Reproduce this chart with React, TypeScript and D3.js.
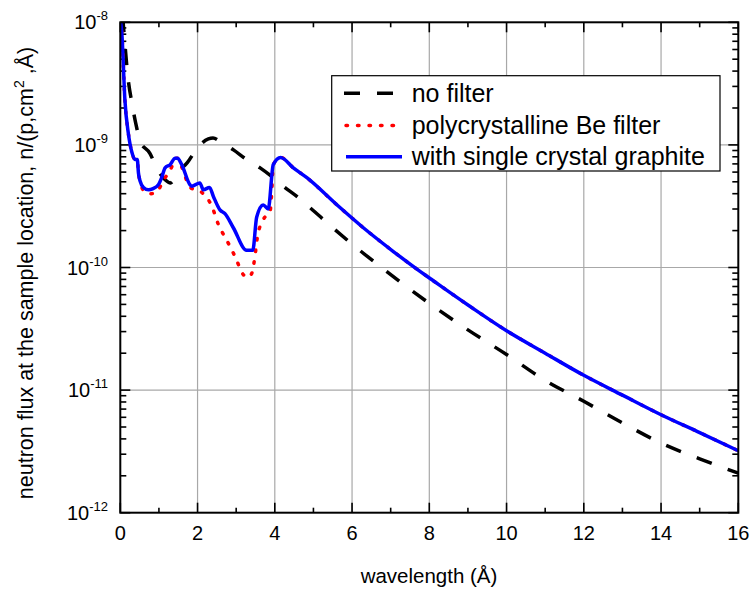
import React from "react";
import * as d3 from "d3";

const noFilterX = [0.06, 0.1, 0.2, 0.3, 0.42, 0.51, 0.77, 0.94, 1.16, 1.3, 1.5, 1.74, 1.98, 2.28, 2.4, 2.58, 2.93, 3.27, 3.62, 3.96, 4.22, 4.57, 4.87, 5.48, 6.08, 6.73, 8, 9, 10, 11, 12, 13, 14, 15, 16];
const noFilterY = [1.12e-8, 7.9e-9, 3.5e-9, 2.2e-9, 1.4e-9, 1.07e-9, 8.5e-10, 6.5e-10, 5.2e-10, 4.9e-10, 6.0e-10, 7.2e-10, 9.3e-10, 1.12e-9, 1.14e-9, 1.07e-9, 9.1e-10, 7.6e-10, 6.5e-10, 5.4e-10, 4.6e-10, 3.8e-10, 3.16e-10, 2.14e-10, 1.48e-10, 1.02e-10, 5.1e-11, 3.1e-11, 1.95e-11, 1.2e-11, 8.1e-12, 5.4e-12, 3.7e-12, 2.75e-12, 2.1e-12];

const graphiteX = [0, 0.04, 0.12, 0.21, 0.3, 0.38, 0.44, 0.47, 0.51, 0.6, 0.73, 0.85, 0.98, 1.07, 1.16, 1.29, 1.42, 1.48, 1.59, 1.81, 1.85, 2.06, 2.15, 2.31, 2.41, 2.58, 2.71, 2.93, 3.27, 3.43, 3.53, 3.7, 3.83, 3.96, 4.15, 4.48, 4.83, 5.61, 6.3, 7.07, 7.76, 8.03, 9.02, 10, 11, 12, 13, 14, 15, 16];
const graphiteY = [1.05e-8, 8.1e-9, 2.3e-9, 1.23e-9, 8.7e-10, 7.6e-10, 7.6e-10, 5.9e-10, 5.1e-10, 4.5e-10, 4.3e-10, 4.4e-10, 4.7e-10, 5.4e-10, 6.5e-10, 6.9e-10, 7.8e-10, 7.8e-10, 6.9e-10, 4.7e-10, 4.6e-10, 4.9e-10, 4.3e-10, 4.5e-10, 3.8e-10, 2.95e-10, 2.75e-10, 2.1e-10, 1.38e-10, 1.38e-10, 2.57e-10, 3.24e-10, 3.0e-10, 6.9e-10, 7.9e-10, 6.5e-10, 5.4e-10, 3.24e-10, 2.1e-10, 1.35e-10, 9.3e-11, 8.1e-11, 4.9e-11, 3.05e-11, 2.0e-11, 1.32e-11, 9.1e-12, 6.3e-12, 4.5e-12, 3.2e-12];

const beX = [0, 0.04, 0.12, 0.21, 0.3, 0.38, 0.44, 0.47, 0.51, 0.64, 0.8, 0.94, 1.11, 1.33, 1.42, 1.48, 1.59, 1.81, 2.11, 2.37, 2.54, 2.76, 2.97, 3.19, 3.3, 3.4, 3.49, 3.55, 3.7, 3.88, 3.92, 3.96, 4.15, 4.48, 4.83, 5.61, 6.3, 7.07, 7.76, 8.03, 9.02, 10, 11, 12, 13, 14, 15, 16];
const beY = [1.05e-8, 8.1e-9, 2.3e-9, 1.23e-9, 8.7e-10, 7.6e-10, 7.6e-10, 5.9e-10, 5.1e-10, 4.1e-10, 4.0e-10, 4.1e-10, 5.1e-10, 6.6e-10, 7.8e-10, 7.8e-10, 6.6e-10, 4.5e-10, 4.1e-10, 3.16e-10, 2.24e-10, 1.66e-10, 1.23e-10, 8.7e-11, 8.3e-11, 8.9e-11, 1.26e-10, 1.78e-10, 2.45e-10, 2.9e-10, 4.1e-10, 6.9e-10, 7.9e-10, 6.5e-10, 5.4e-10, 3.24e-10, 2.1e-10, 1.35e-10, 9.3e-11, 8.1e-11, 4.9e-11, 3.05e-11, 2.0e-11, 1.32e-11, 9.1e-12, 6.3e-12, 4.5e-12, 3.2e-12];

const xTicks = [0, 2, 4, 6, 8, 10, 12, 14, 16];
const xMinorTicks = [1, 3, 5, 7, 9, 11, 13, 15];
const yExponents = [-8, -9, -10, -11, -12];
const legendLabels = ["no filter", "polycrystalline Be filter", "with single crystal graphite"];

const W = 752, H = 591;
const L = 120.3, R = 738.3, T = 22.3, B = 512.7;
const FONT = "'Liberation Sans', Arial, sans-serif";

export default function App() {
  const x = d3.scaleLinear().domain([0, 16]).range([L, R]);
  const y = d3.scaleLog().domain([1e-12, 1e-8]).range([B, T]);
  const mk = (xs: number[], ys: number[], curve: any) =>
    d3.line<number>().x((_, i) => x(xs[i])).y((_, i) => y(ys[i])).curve(curve)(xs.map((_, i) => i)) || "";

  const pathNo = mk(noFilterX, noFilterY, d3.curveMonotoneX);
  const pathBe = mk(beX, beY, d3.curveMonotoneX);
  const pathGr = mk(graphiteX, graphiteY, d3.curveMonotoneX);

  const yMinor: number[] = [];
  for (let e = -12; e < -8; e++) for (let k = 2; k <= 9; k++) yMinor.push(k * Math.pow(10, e));

  const grid = "#a8a8a8";
  const legX = 331.7, legY = 75.7, legW = 388.3, legH = 95.3;
  const rows = [93.3, 125.5, 156.7];
  const styles = [
    { stroke: "#000", width: 3.5, dash: "16 17", cap: "butt" },
    { stroke: "#ff0000", width: 3.5, dash: "1.5 10", cap: "round" },
    { stroke: "#0000ff", width: 3.5, dash: "none", cap: "butt" },
  ];

  return (
    <svg width={W} height={H} style={{ position: "absolute", left: 0, top: 0, background: "#fff" }} fontFamily={FONT}>
      <defs>
        <clipPath id="plotclip">
          <rect x={L} y={T} width={R - L} height={B - T} />
        </clipPath>
      </defs>
      <rect x={0} y={0} width={W} height={H} fill="#fff" />
      {xTicks.slice(1, -1).map((t) => (
        <line key={"gx" + t} x1={x(t)} x2={x(t)} y1={T} y2={B} stroke={grid} strokeWidth={1.2} />
      ))}
      {yExponents.slice(1, -1).map((e) => (
        <line key={"gy" + e} x1={L} x2={R} y1={y(Math.pow(10, e))} y2={y(Math.pow(10, e))} stroke={grid} strokeWidth={1.2} />
      ))}
      {xTicks.map((t) => (
        <g key={"xt" + t}>
          <line x1={x(t)} x2={x(t)} y1={B} y2={B - 10} stroke="#000" strokeWidth={1.6} />
          <line x1={x(t)} x2={x(t)} y1={T} y2={T + 10} stroke="#000" strokeWidth={1.6} />
        </g>
      ))}
      {xMinorTicks.map((t) => (
        <g key={"xm" + t}>
          <line x1={x(t)} x2={x(t)} y1={B} y2={B - 5} stroke="#000" strokeWidth={1.6} />
          <line x1={x(t)} x2={x(t)} y1={T} y2={T + 5} stroke="#000" strokeWidth={1.6} />
        </g>
      ))}
      {yExponents.map((e) => (
        <g key={"yt" + e}>
          <line x1={L} x2={L + 10} y1={y(Math.pow(10, e))} y2={y(Math.pow(10, e))} stroke="#000" strokeWidth={1.6} />
          <line x1={R} x2={R - 10} y1={y(Math.pow(10, e))} y2={y(Math.pow(10, e))} stroke="#000" strokeWidth={1.6} />
        </g>
      ))}
      {yMinor.map((v, i) => (
        <g key={"ym" + i}>
          <line x1={L} x2={L + 6} y1={y(v)} y2={y(v)} stroke="#000" strokeWidth={1.6} />
          <line x1={R} x2={R - 6} y1={y(v)} y2={y(v)} stroke="#000" strokeWidth={1.6} />
        </g>
      ))}
      <g clipPath="url(#plotclip)" fill="none">
        <path d={pathNo} stroke="#000" strokeWidth={3.5} strokeDasharray="16 17" />
        <path d={pathBe} stroke="#ff0000" strokeWidth={3.5} strokeDasharray="1.5 10" strokeLinecap="round" />
        <path d={pathGr} stroke="#0000ff" strokeWidth={3.5} strokeLinejoin="round" />
      </g>
      <rect x={L} y={T} width={R - L} height={B - T} fill="none" stroke="#000" strokeWidth={2} />
      {xTicks.map((t) => (
        <text key={"xl" + t} x={x(t)} y={540} textAnchor="middle" fontSize={20} fill="#000">
          {t}
        </text>
      ))}
      {yExponents.map((e) => (
        <text key={"yl" + e} x={108} y={y(Math.pow(10, e)) + 7} textAnchor="end" fontSize={20} fill="#000">
          10
          <tspan fontSize={13} dy={-9}>{e}</tspan>
        </text>
      ))}
      <text x={429} y={583} textAnchor="middle" fontSize={20.5} fill="#000">
        wavelength (Å)
      </text>
      <text transform={`translate(33, 273) rotate(-90)`} textAnchor="middle" fontSize={21.5} fill="#000">
        neutron flux at the sample location, n/(p,cm<tspan fontSize={14} dy={-9}>2</tspan>
        <tspan dy={9}> ,Å)</tspan>
      </text>
      <rect x={legX} y={legY} width={legW} height={legH} fill="#fff" stroke="#000" strokeWidth={1.2} />
      {legendLabels.map((lab, i) => (
        <g key={"lg" + i}>
          <line
            x1={i === 0 ? 344 : 346}
            x2={i === 0 ? 393 : 402}
            y1={rows[i]}
            y2={rows[i]}
            stroke={styles[i].stroke}
            strokeWidth={styles[i].width}
            strokeDasharray={styles[i].dash}
            strokeLinecap={styles[i].cap as any}
          />
          <text x={411.7} y={rows[i]} dy="0.35em" fontSize={25} fill="#000">
            {lab}
          </text>
        </g>
      ))}
    </svg>
  );
}
